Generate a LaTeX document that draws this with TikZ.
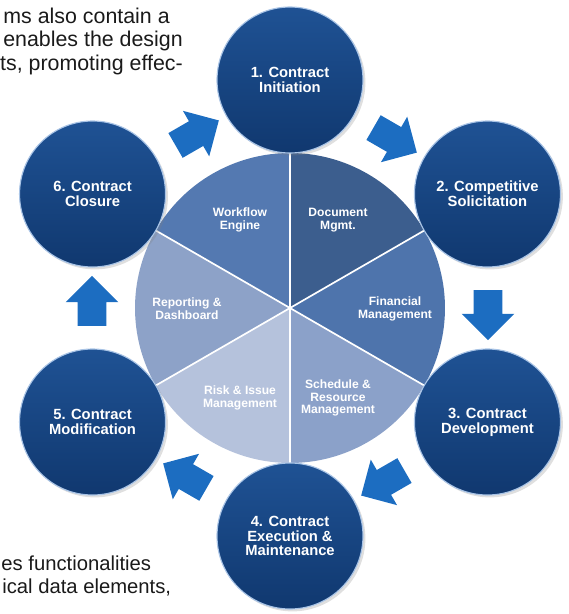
\documentclass[tikz,border=0pt]{standalone}
\usepackage{fontspec}
\setmainfont{Liberation Sans}
\usepackage{tikz}
\usetikzlibrary{shapes, shapes.arrows, shadows}

\definecolor{stagetop}{HTML}{1F5294}
\definecolor{stagebottom}{HTML}{10386F}
\definecolor{stagerim}{HTML}{A9C4E6}
\definecolor{flowblue}{HTML}{1C6DC1}
\definecolor{wfcolor}{HTML}{5479B1}
\definecolor{doccolor}{HTML}{3C5E8E}
\definecolor{fincolor}{HTML}{4E74AC}
\definecolor{schedcolor}{HTML}{8BA1C9}
\definecolor{riskcolor}{HTML}{B5C2DC}
\definecolor{repcolor}{HTML}{8DA2C8}
\definecolor{pagetext}{HTML}{1A1A1A}

\begin{document}
\begin{tikzpicture}[
	stage/.style={circle, minimum size=3.65cm, inner sep=0pt, top color=stagetop, bottom color=stagebottom, draw=stagerim, line width=0.8pt, drop shadow={opacity=0.25, shadow xshift=0.06cm, shadow yshift=-0.06cm}, text=white, align=center, font=\bfseries\fontsize{10.5}{10.5}\selectfont},
	flow/.style={single arrow, fill=flowblue, inner xsep=0pt, inner ysep=0.35cm, minimum height=1.25cm, single arrow head extend=0.3cm},
	module/.style={text=white, align=center, font=\bfseries\fontsize{8.6}{9}\selectfont},
	divider/.style={white, line width=1.2pt},
	page/.style={text=pagetext, inner sep=0pt, anchor=base east, font=\fontsize{15.2}{16}\selectfont}]
	\useasboundingbox (-7.25,-7.65) rectangle (6.975,7.7);

	\node[page] (top1) at (-3.0, 7.1) {ms also contain a};
	\node[page] (top2) at (-2.675, 6.525) {enables the design};
	\node[page] (top3) at (-2.675, 5.95) {ts, promoting effec-};
	\node[page, anchor=base west, font=\fontsize{14.4}{16}\selectfont] (bot1) at (-7.22, -6.55) {es functionalities};
	\node[page, anchor=base west, font=\fontsize{14.4}{16}\selectfont] (bot2) at (-7.2, -7.125) {ical data elements,};

	\fill[doccolor] (0,0) -- (90:3.875) arc (90:30:3.875) -- cycle;
	\fill[fincolor] (0,0) -- (30:3.875) arc (30:-30:3.875) -- cycle;
	\fill[schedcolor] (0,0) -- (-30:3.875) arc (-30:-90:3.875) -- cycle;
	\fill[riskcolor] (0,0) -- (-90:3.875) arc (-90:-150:3.875) -- cycle;
	\fill[repcolor] (0,0) -- (-150:3.875) arc (-150:-210:3.875) -- cycle;
	\fill[wfcolor] (0,0) -- (150:3.875) arc (150:90:3.875) -- cycle;
	\draw[divider] (0,0) -- (90:3.875);
	\draw[divider] (0,0) -- (30:3.875);
	\draw[divider] (0,0) -- (-30:3.875);
	\draw[divider] (0,0) -- (-90:3.875);
	\draw[divider] (0,0) -- (-150:3.875);
	\draw[divider] (0,0) -- (150:3.875);

	\node[module] (workflow) at (-1.25, 2.2) {Workflow\\Engine};
	\node[module] (document) at (1.2, 2.2) {Document\\Mgmt.};
	\node[module] (financial) at (2.625, -0.02) {Financial\\Management};
	\node[module] (schedule) at (1.2, -2.25) {Schedule \&\\Resource\\Management};
	\node[module] (risk) at (-1.25, -2.25) {Risk \& Issue\\Management};
	\node[module] (reporting) at (-2.575, -0.02) {Reporting \&\\Dashboard};

	\node[stage] (initiation) at (90:5.7) {1. Contract\\Initiation};
	\node[stage] (solicitation) at (30:5.7) {2. Competitive\\Solicitation};
	\node[stage] (development) at (-30:5.7) {3. Contract\\Development};
	\node[stage] (execution) at (-90:5.7) {4. Contract\\Execution \&\\Maintenance};
	\node[stage] (modification) at (-150:5.7) {5. Contract\\Modification};
	\node[stage] (closure) at (150:5.7) {6. Contract\\Closure};

	\node[flow, rotate=30] (closeinit) at (120:4.95) {};
	\node[flow, rotate=-30] (initsolicit) at (60:4.95) {};
	\node[flow, rotate=-90] (solicitdev) at (0:4.95) {};
	\node[flow, rotate=-150] (devexec) at (-60:4.95) {};
	\node[flow, rotate=150] (execmod) at (-120:4.95) {};
	\node[flow, rotate=90] (modclose) at (180:4.95) {};

\end{tikzpicture}
\end{document}
